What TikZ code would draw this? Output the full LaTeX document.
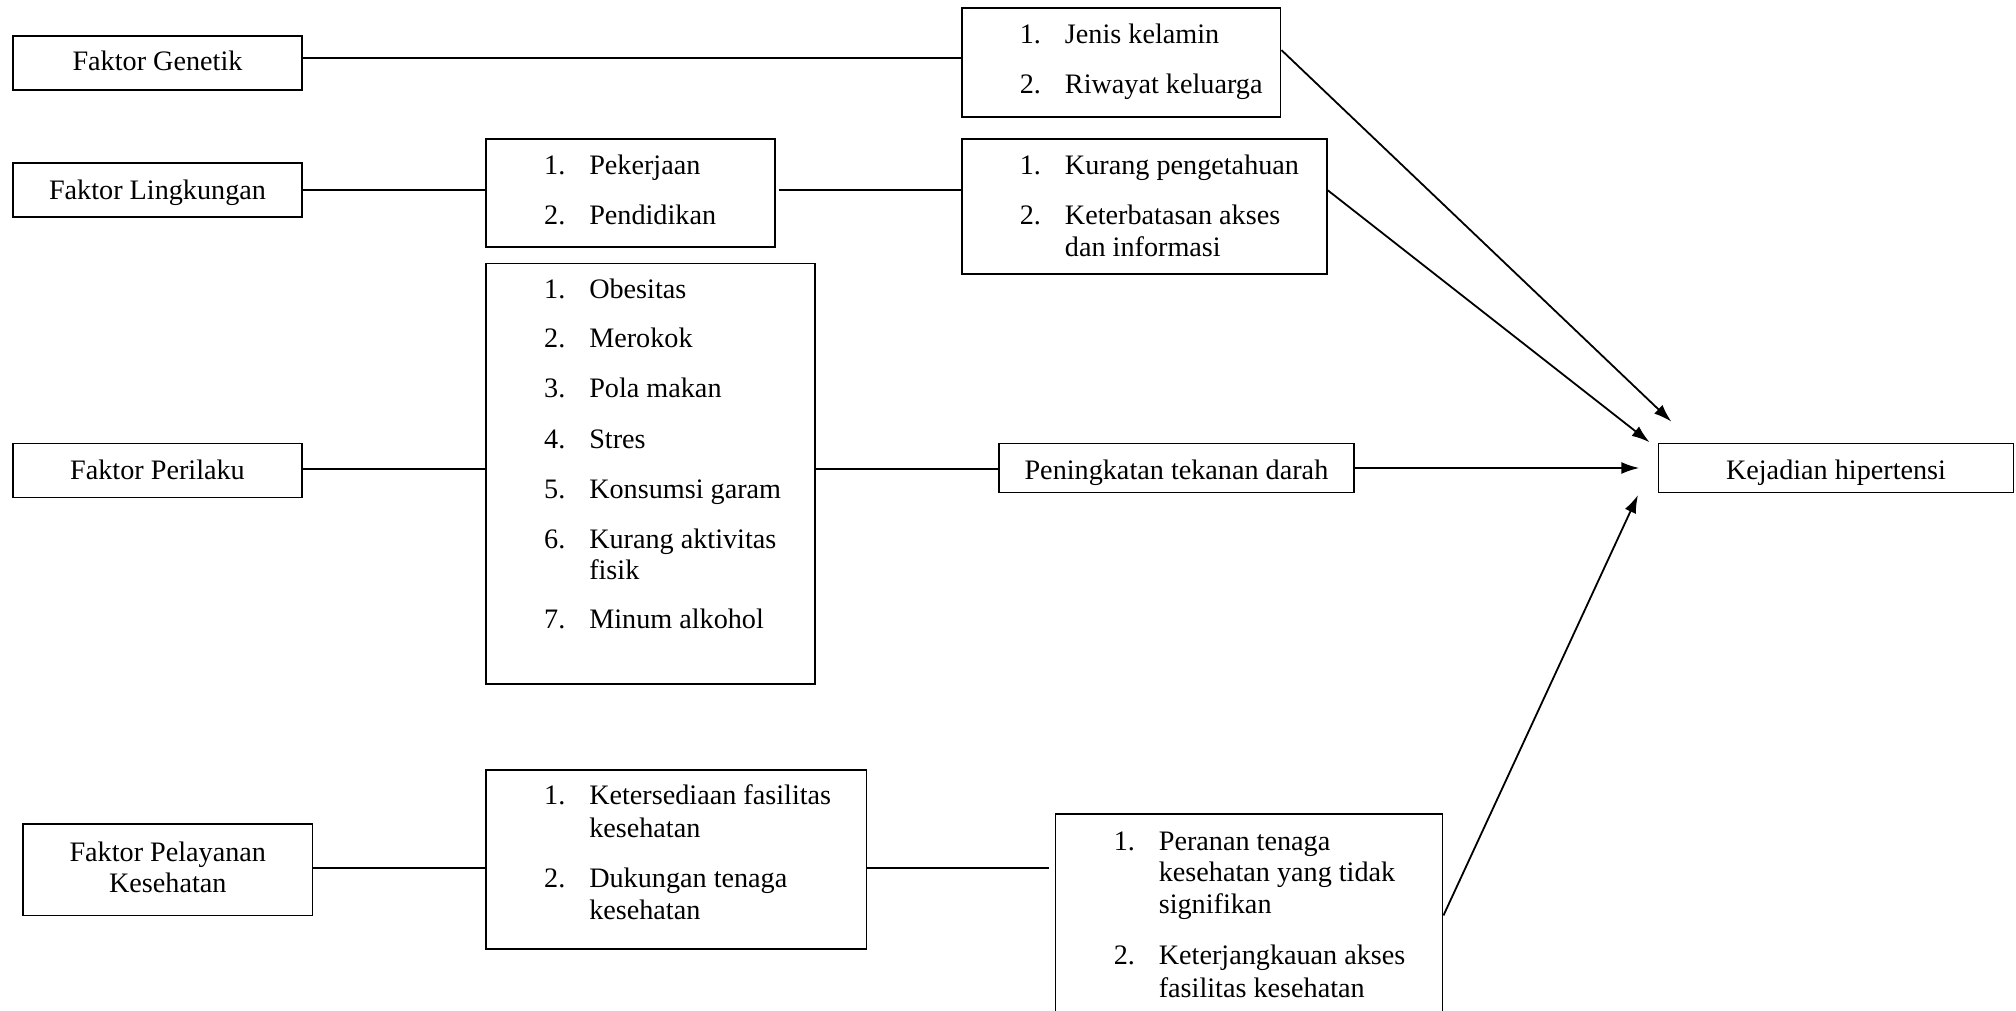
\documentclass[tikz,border=0pt]{standalone}
\usepackage{fontspec}
\setmainfont{Liberation Serif}
\usetikzlibrary{arrows.meta,fit,calc}
\begin{document}
\begin{tikzpicture}[x=0.643pt,y=-0.643pt,
  font=\fontsize{14.1}{16}\selectfont,
  boxst/.style={draw,line width=0.9pt,inner sep=0pt},
  lnk/.style={line width=0.9pt},
  arr/.style={line width=0.9pt,-{Latex[length=9pt,width=6pt]}},
  num/.style={anchor=base east,inner sep=0pt,yshift=-1.6pt},
  itx/.style={anchor=base west,inner sep=0pt,yshift=-1.6pt},
  ctx/.style={anchor=base,inner sep=0pt,yshift=-1.8pt}]
\useasboundingbox (0,0) rectangle (1568,786);
% left boxes
\node[boxst,fit={(10,28) (235,70)}] (gen) {};
\node[ctx] (tgen) at (122.5,52) {Faktor Genetik};
\node[boxst,fit={(10,127) (235,169)}] (lin) {};
\node[ctx] (tlin) at (122.5,152) {Faktor Lingkungan};
\node[boxst,fit={(10,345) (235,387)}] (per) {};
\node[ctx] (tper) at (122.5,370) {Faktor Perilaku};
\node[boxst,fit={(18,641) (243,712)}] (pel) {};
\node[ctx] (tpel1) at (130.5,667) {Faktor Pelayanan};
\node[ctx] (tpel2) at (130.5,691) {Kesehatan};
% middle boxes
\node[boxst,fit={(378,108) (603,192)}] (pek) {};
\node[num] (pk1n) at (440,133) {1.};
\node[itx] (pk1) at (458,133) {Pekerjaan};
\node[num] (pk2n) at (440,172) {2.};
\node[itx] (pk2) at (458,172) {Pendidikan};

\node[boxst,fit={(378,205) (634,532)}] (obe) {};
\node[num] (o1n) at (440,230) {1.};
\node[itx] (o1) at (458,230) {Obesitas};
\node[num] (o2n) at (440,268) {2.};
\node[itx] (o2) at (458,268) {Merokok};
\node[num] (o3n) at (440,307) {3.};
\node[itx] (o3) at (458,307) {Pola makan};
\node[num] (o4n) at (440,346) {4.};
\node[itx] (o4) at (458,346) {Stres};
\node[num] (o5n) at (440,385) {5.};
\node[itx] (o5) at (458,385) {Konsumsi garam};
\node[num] (o6n) at (440,424) {6.};
\node[itx] (o6) at (458,424) {Kurang aktivitas};
\node[itx] (o6b) at (458,448) {fisik};
\node[num] (o7n) at (440,486) {7.};
\node[itx] (o7) at (458,486) {Minum alkohol};

\node[boxst,fit={(378,599) (674,738)}] (ket) {};
\node[num] (k1n) at (440,623) {1.};
\node[itx] (k1) at (458,623) {Ketersediaan fasilitas};
\node[itx] (k1b) at (458,649) {kesehatan};
\node[num] (k2n) at (440,688) {2.};
\node[itx] (k2) at (458,688) {Dukungan tenaga};
\node[itx] (k2b) at (458,713) {kesehatan};
% right-middle boxes
\node[boxst,fit={(748,6) (996,91)}] (jen) {};
\node[num] (j1n) at (810,31) {1.};
\node[itx] (j1) at (828,31) {Jenis kelamin};
\node[num] (j2n) at (810,70) {2.};
\node[itx] (j2) at (828,70) {Riwayat keluarga};

\node[boxst,fit={(748,108) (1032,213)}] (kur) {};
\node[num] (u1n) at (810,133) {1.};
\node[itx] (u1) at (828,133) {Kurang pengetahuan};
\node[num] (u2n) at (810,172) {2.};
\node[itx] (u2) at (828,172) {Keterbatasan akses};
\node[itx] (u2b) at (828,197) {dan informasi};

\node[boxst,fit={(777,345) (1053,383)}] (pen) {};
\node[ctx] (tpen) at (915,370) {Peningkatan tekanan darah};

\node[boxst,fit={(821,633) (1122,805)}] (prn) {};
\node[num] (r1n) at (883,659) {1.};
\node[itx] (r1) at (901,659) {Peranan tenaga};
\node[itx] (r1b) at (901,683) {kesehatan yang tidak};
\node[itx] (r1c) at (901,708) {signifikan};
\node[num] (r2n) at (883,748) {2.};
\node[itx] (r2) at (901,748) {Keterjangkauan akses};
\node[itx] (r2b) at (901,773) {fasilitas kesehatan};

\node[boxst,fit={(1290,345) (1566,383)}] (kej) {};
\node[ctx] (tkej) at (1428,370) {Kejadian hipertensi};
% arrow targets
\coordinate (t1) at (1300,328);
\coordinate (t2) at (1283,344);
\coordinate (t3) at (1275,364);
\coordinate (t4) at (1274,385);
% connectors
\draw[lnk] (gen.east |- 0,45) -- (jen.west |- 0,45);
\draw[lnk] (lin.east |- 0,148) -- (pek.west |- 0,148);
\draw[lnk] (pek.east |- 0,148) ++(2,0) -- (kur.west |- 0,148);
\draw[lnk] (per.east |- 0,365) -- (obe.west |- 0,365);
\draw[lnk] (obe.east |- 0,365) -- (pen.west |- 0,365);
\draw[lnk] (pel.east |- 0,675) -- (ket.west |- 0,675);
\draw[lnk,shorten >=3pt] (ket.east |- 0,675) -- (prn.west |- 0,675);
\draw[arr] (jen.east |- 0,39) -- (t1);
\draw[arr] (kur.east |- 0,148) -- (t2);
\draw[arr] (pen.east |- 0,364) -- (t3);
\draw[arr] (prn.east |- 0,712) -- (t4);
\end{tikzpicture}
\end{document}
